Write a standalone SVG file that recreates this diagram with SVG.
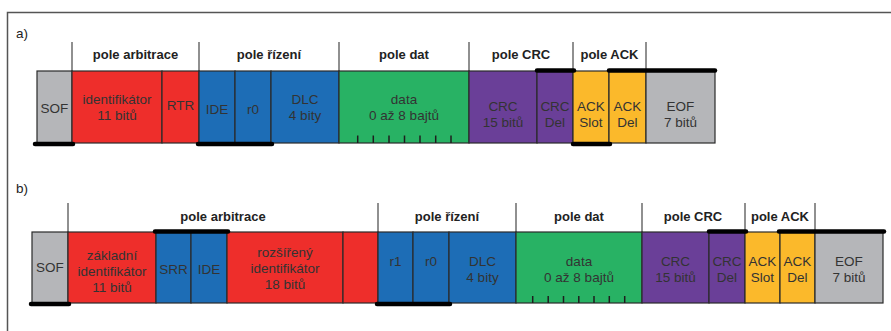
<svg xmlns="http://www.w3.org/2000/svg" width="891" height="331" viewBox="0 0 891 331">
  <style>
    .lbl { font-family: "Liberation Sans", Arial, sans-serif; font-size: 13.5px; fill: #333; text-anchor: middle; }
    .hdr { font-family: "Liberation Sans", Arial, sans-serif; font-size: 13px; font-weight: bold; fill: #222; text-anchor: middle; }
    .tag { font-family: "Liberation Sans", Arial, sans-serif; font-size: 13.5px; fill: #222; }
    .box { stroke: #2a2a2a; stroke-width: 1.2; }
    .gray { fill: #b5b6b9; }
    .red { fill: #ee2e2b; }
    .blue { fill: #1d6db6; }
    .green { fill: #28b264; }
    .purple { fill: #6a3f98; }
    .yellow { fill: #fbb92b; }
    .div { stroke: #6b6b6b; stroke-width: 1.5; }
    .bar { stroke: #000; stroke-width: 4.5; stroke-linecap: round; }
    .tick { stroke: #1e1e1e; stroke-width: 1.5; }
  </style>

  <!-- frame -->
  <path d="M7.5,331 V12.5 H891" fill="none" stroke="#555" stroke-width="1.5"/>

  <text class="tag" x="16" y="38">a)</text>
  <text class="tag" x="16" y="193">b)</text>

  <!-- ===== a) standard frame ===== -->
  <g id="a-headers">
    <line class="div" x1="72" y1="42" x2="72" y2="71"/>
    <line class="div" x1="199" y1="42" x2="199" y2="71"/>
    <line class="div" x1="339" y1="42" x2="339" y2="71"/>
    <line class="div" x1="469" y1="42" x2="469" y2="71"/>
    <line class="div" x1="573" y1="42" x2="573" y2="71"/>
    <line class="div" x1="646" y1="42" x2="646" y2="71"/>
    <text class="hdr" x="135.5" y="59">pole arbitrace</text>
    <text class="hdr" x="269" y="59">pole řízení</text>
    <text class="hdr" x="404" y="59">pole dat</text>
    <text class="hdr" x="521" y="59">pole CRC</text>
    <text class="hdr" x="609.5" y="59">pole ACK</text>
  </g>

  <g id="a-sof"><rect class="box gray" x="37" y="71" width="35" height="72"/><text class="lbl" x="54.5" y="113">SOF</text></g>
  <g id="a-id"><rect class="box red" x="72" y="71" width="90" height="72"/><text class="lbl" x="117" y="104">identifikátor</text><text class="lbl" x="117" y="120">11 bitů</text></g>
  <g id="a-rtr"><rect class="box red" x="162" y="71" width="37" height="72"/><text class="lbl" x="180.5" y="110">RTR</text></g>
  <g id="a-ide"><rect class="box blue" x="199" y="71" width="36" height="72"/><text class="lbl" x="217" y="113.5">IDE</text></g>
  <g id="a-r0"><rect class="box blue" x="235" y="71" width="36" height="72"/><text class="lbl" x="253" y="113.5">r0</text></g>
  <g id="a-dlc"><rect class="box blue" x="271" y="71" width="68" height="72"/><text class="lbl" x="305" y="103.5">DLC</text><text class="lbl" x="305" y="120">4 bity</text></g>
  <g id="a-data"><rect class="box green" x="339" y="71" width="130" height="72"/><text class="lbl" x="404" y="103.5">data</text><text class="lbl" x="404" y="120">0 až 8 bajtů</text></g>
  <g id="a-crc"><rect class="box purple" x="469" y="71" width="68" height="72"/><text class="lbl" x="503" y="110.5">CRC</text><text class="lbl" x="503" y="126.5">15 bitů</text></g>
  <g id="a-crcdel"><rect class="box purple" x="537" y="71" width="36" height="72"/><text class="lbl" x="555" y="110.5">CRC</text><text class="lbl" x="555" y="126.5">Del</text></g>
  <g id="a-ackslot"><rect class="box yellow" x="573" y="71" width="36" height="72"/><text class="lbl" x="591" y="110.5">ACK</text><text class="lbl" x="591" y="126.5">Slot</text></g>
  <g id="a-ackdel"><rect class="box yellow" x="609" y="71" width="37" height="72"/><text class="lbl" x="627.5" y="110.5">ACK</text><text class="lbl" x="627.5" y="126.5">Del</text></g>
  <g id="a-eof"><rect class="box gray" x="646" y="71" width="69" height="72"/><text class="lbl" x="680.5" y="110.5">EOF</text><text class="lbl" x="680.5" y="126.5">7 bitů</text></g>

  <g id="a-marks">
    <line class="bar" x1="35" y1="144" x2="73" y2="144"/>
    <line class="bar" x1="198" y1="144" x2="272" y2="144"/>
    <line class="bar" x1="537" y1="70.5" x2="574" y2="70.5"/>
    <line class="bar" x1="573" y1="144" x2="610" y2="144"/>
    <line class="bar" x1="609" y1="70.5" x2="715" y2="70.5"/>
    <g class="tick">
      <line x1="357.7" y1="135.5" x2="357.7" y2="143"/>
      <line x1="373.3" y1="135.5" x2="373.3" y2="143"/>
      <line x1="389" y1="135.5" x2="389" y2="143"/>
      <line x1="404.5" y1="135.5" x2="404.5" y2="143"/>
      <line x1="420" y1="135.5" x2="420" y2="143"/>
      <line x1="435.7" y1="135.5" x2="435.7" y2="143"/>
      <line x1="451" y1="135.5" x2="451" y2="143"/>
    </g>
  </g>

  <!-- ===== b) extended frame ===== -->
  <g id="b-headers">
    <line class="div" x1="68" y1="203" x2="68" y2="232"/>
    <line class="div" x1="378" y1="203" x2="378" y2="232"/>
    <line class="div" x1="516" y1="203" x2="516" y2="232"/>
    <line class="div" x1="642" y1="203" x2="642" y2="232"/>
    <line class="div" x1="745" y1="203" x2="745" y2="232"/>
    <line class="div" x1="815" y1="203" x2="815" y2="232"/>
    <text class="hdr" x="223" y="221">pole arbitrace</text>
    <text class="hdr" x="447" y="221">pole řízení</text>
    <text class="hdr" x="579" y="221">pole dat</text>
    <text class="hdr" x="693" y="221">pole CRC</text>
    <text class="hdr" x="780" y="221">pole ACK</text>
  </g>

  <g id="b-sof"><rect class="box gray" x="32" y="232" width="36" height="71"/><text class="lbl" x="50" y="272">SOF</text></g>
  <g id="b-baseid"><rect class="box red" x="68" y="232" width="88" height="71"/><text class="lbl" x="112" y="260">základní</text><text class="lbl" x="112" y="276">identifikátor</text><text class="lbl" x="112" y="292">11 bitů</text></g>
  <g id="b-srr"><rect class="box blue" x="156" y="232" width="35" height="71"/><text class="lbl" x="173.5" y="273.5">SRR</text></g>
  <g id="b-ide"><rect class="box blue" x="191" y="232" width="36" height="71"/><text class="lbl" x="209" y="273.5">IDE</text></g>
  <g id="b-extid"><rect class="box red" x="227" y="232" width="116" height="71"/><text class="lbl" x="285" y="257">rozšířený</text><text class="lbl" x="285" y="273">identifikátor</text><text class="lbl" x="285" y="289">18 bitů</text></g>
  <g id="b-rtr"><rect class="box red" x="343" y="232" width="35" height="71"/></g>
  <g id="b-r1"><rect class="box blue" x="378" y="232" width="35" height="71"/><text class="lbl" x="395.5" y="265.5">r1</text></g>
  <g id="b-r0"><rect class="box blue" x="413" y="232" width="36" height="71"/><text class="lbl" x="431" y="265.5">r0</text></g>
  <g id="b-dlc"><rect class="box blue" x="449" y="232" width="67" height="71"/><text class="lbl" x="482.5" y="265.5">DLC</text><text class="lbl" x="482.5" y="281.5">4 bity</text></g>
  <g id="b-data"><rect class="box green" x="516" y="232" width="126" height="71"/><text class="lbl" x="579" y="265.5">data</text><text class="lbl" x="579" y="281.5">0 až 8 bajtů</text></g>
  <g id="b-crc"><rect class="box purple" x="642" y="232" width="67" height="71"/><text class="lbl" x="675.5" y="265.5">CRC</text><text class="lbl" x="675.5" y="281.5">15 bitů</text></g>
  <g id="b-crcdel"><rect class="box purple" x="709" y="232" width="36" height="71"/><text class="lbl" x="727" y="265.5">CRC</text><text class="lbl" x="727" y="281.5">Del</text></g>
  <g id="b-ackslot"><rect class="box yellow" x="745" y="232" width="35" height="71"/><text class="lbl" x="762.5" y="265.5">ACK</text><text class="lbl" x="762.5" y="281.5">Slot</text></g>
  <g id="b-ackdel"><rect class="box yellow" x="780" y="232" width="35" height="71"/><text class="lbl" x="797.5" y="265.5">ACK</text><text class="lbl" x="797.5" y="281.5">Del</text></g>
  <g id="b-eof"><rect class="box gray" x="815" y="232" width="68" height="71"/><text class="lbl" x="849" y="265.5">EOF</text><text class="lbl" x="849" y="281.5">7 bitů</text></g>

  <g id="b-marks">
    <line class="bar" x1="31" y1="304" x2="69" y2="304"/>
    <line class="bar" x1="155" y1="231.5" x2="228" y2="231.5"/>
    <line class="bar" x1="377" y1="304" x2="450" y2="304"/>
    <line class="bar" x1="709" y1="231.5" x2="746" y2="231.5"/>
    <line class="bar" x1="779" y1="231.5" x2="884" y2="231.5"/>
    <g class="tick">
      <line x1="532.7" y1="296" x2="532.7" y2="303"/>
      <line x1="548.2" y1="296" x2="548.2" y2="303"/>
      <line x1="563.5" y1="296" x2="563.5" y2="303"/>
      <line x1="578.8" y1="296" x2="578.8" y2="303"/>
      <line x1="594" y1="296" x2="594" y2="303"/>
      <line x1="609.3" y1="296" x2="609.3" y2="303"/>
      <line x1="624.7" y1="296" x2="624.7" y2="303"/>
    </g>
  </g>
</svg>
